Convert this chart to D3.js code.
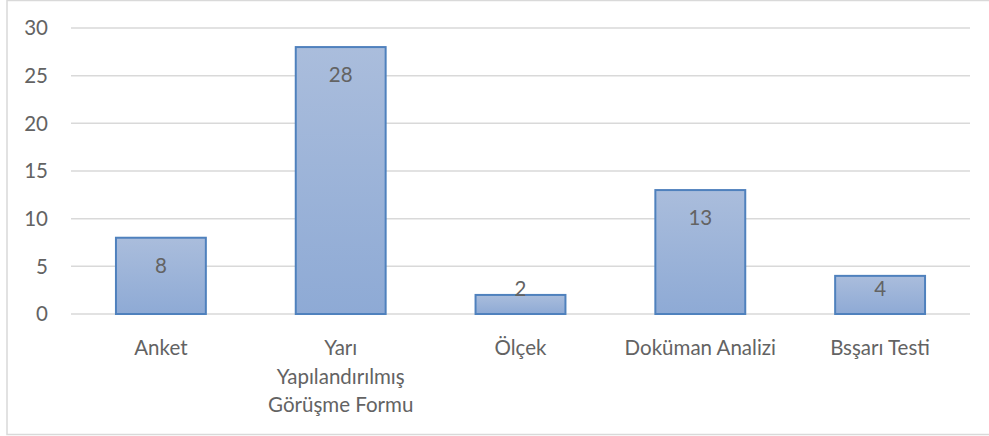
<!DOCTYPE html>
<html>
<head>
<meta charset="utf-8">
<script src="https://cdn.jsdelivr.net/npm/d3@7"></script>
<style>
  body { margin: 0; background: #fff; }
  svg text { font-family: Lato, "Open Sans", sans-serif; fill: #636363; }
</style>
</head>
<body>
<svg id="chart" width="989" height="436"></svg>
<script>
// data
const categories = ["Anket", "Yarı Yapılandırılmış Görüşme Formu", "Ölçek", "Doküman Analizi", "Bsşarı Testi"];
const counts = [8, 28, 2, 13, 4];
const yTicks = [0, 5, 10, 15, 20, 25, 30];

const svg = d3.select("#chart");
const W = 989, H = 436;
const margin = {left: 71, right: 19, top: 28, bottom: 122};
const fontSize = "20.5px";

// chart frame
svg.append("rect")
    .attr("x", 7).attr("y", 0.5)
    .attr("width", W + 10).attr("height", 434)
    .attr("fill", "none").attr("stroke", "#d9d9d9").attr("stroke-width", 1.5);

const x = d3.scaleBand().domain(categories)
    .range([margin.left, W - margin.right]).paddingInner(0.5).paddingOuter(0.25);
const y = d3.scaleLinear().domain([0, 30]).range([H - margin.bottom, margin.top]);

let defs = svg.append("defs");
let grad = defs.append("linearGradient").attr("id", "barGrad")
    .attr("x1", 0).attr("y1", 0).attr("x2", 0).attr("y2", 1);
grad.append("stop").attr("offset", "0%").attr("stop-color", "#aabddc");
grad.append("stop").attr("offset", "100%").attr("stop-color", "#8eaad5");

// gridlines
svg.append("g").selectAll("line").data(yTicks).join("line")
    .attr("x1", margin.left).attr("x2", W - margin.right)
    .attr("y1", d => y(d)).attr("y2", d => y(d))
    .attr("stroke", "#d9d9d9").attr("stroke-width", 1.5);

// y axis labels
svg.append("g").selectAll("text").data(yTicks).join("text")
    .attr("x", 48).attr("y", d => y(d))
    .attr("dy", "0.35em")
    .attr("text-anchor", "end")
    .attr("font-size", fontSize)
    .text(d => d);

// bars
svg.append("g").selectAll("rect").data(counts).join("rect")
    .attr("x", (d, i) => x(categories[i]))
    .attr("y", d => y(d))
    .attr("width", x.bandwidth())
    .attr("height", d => y(0) - y(d))
    .attr("fill", "url(#barGrad)")
    .attr("stroke", "#4f81bd").attr("stroke-width", 2);

// value labels
svg.append("g").selectAll("text").data(counts).join("text")
    .attr("x", (d, i) => x(categories[i]) + x.bandwidth() / 2)
    .attr("y", d => Math.min(y(d) + 28, y(0) - 25))
    .attr("dy", "0.35em")
    .attr("text-anchor", "middle")
    .attr("font-size", fontSize)
    .text(d => d);

// category labels, wrapped to the band width
const catG = svg.append("g");
categories.forEach(function(c, i) {
    let t = catG.append("text")
        .attr("x", x(c) + x.bandwidth() / 2)
        .attr("y", 348)
        .attr("text-anchor", "middle")
        .attr("font-size", fontSize);
    let words = c.split(" ");
    let lines = [], cur = [];
    words.forEach(function(w) {
        let test = cur.concat([w]).join(" ");
        t.text(test);
        if (cur.length && t.node().getComputedTextLength() > 158) {
            lines.push(cur.join(" "));
            cur = [w];
        } else {
            cur.push(w);
        }
    });
    lines.push(cur.join(" "));
    t.text(null);
    lines.forEach(function(l, k) {
        t.append("tspan").attr("x", x(c) + x.bandwidth() / 2)
            .attr("y", 348 + k * 28.5).attr("dy", "0.35em").text(l);
    });
});
</script>
</body>
</html>
